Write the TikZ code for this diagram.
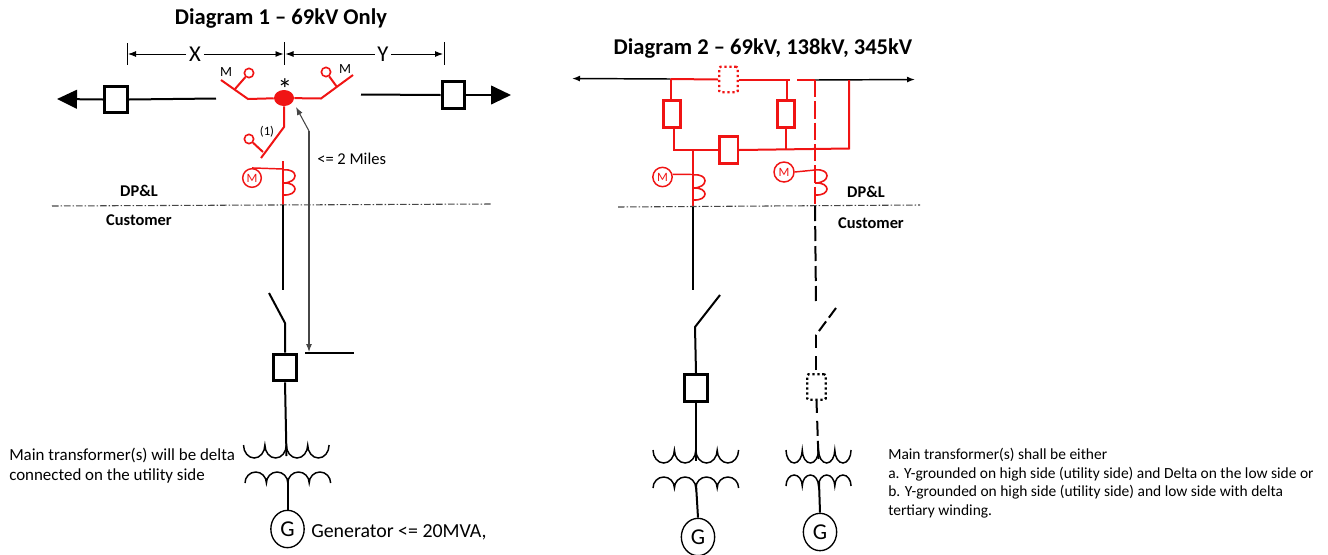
\documentclass[tikz,border=0pt]{standalone}
\usepackage{fontspec}
\setmainfont{Carlito}
\usetikzlibrary{arrows.meta,shapes.geometric}
\definecolor{wirered}{RGB}{240,20,20}
\definecolor{leadgray}{RGB}{70,70,70}
\tikzset{
	wire/.style={line width=1.5pt, black},
	thinwire/.style={line width=1.1pt, black},
	redwire/.style={line width=1.5pt, wirered},
	brk/.style={draw, line width=2.4pt, fill=white, rectangle, inner sep=0pt, minimum width=17pt, minimum height=20pt},
	redbrk/.style={brk, draw=wirered, line width=2pt, minimum width=13pt},
	dotbrk/.style={draw, line width=1.7pt, dotted, rectangle, rounded corners=1pt, inner sep=0pt, minimum width=14pt, minimum height=19pt},
	handle/.style={draw=wirered, line width=1.2pt, circle, fill=white, inner sep=0pt, minimum size=7pt},
	motor/.style={draw=wirered, line width=1.1pt, circle, fill=white, text=wirered, inner sep=0pt, minimum size=14pt, font=\fontsize{9.5}{10}\selectfont},
	gen/.style={draw, line width=1pt, ellipse, fill=white, inner sep=0pt, minimum width=25pt, minimum height=28pt, font=\fontsize{17}{18}\selectfont},
	title/.style={font=\bfseries\fontsize{16.9}{20}\selectfont},
	side/.style={font=\bfseries\fontsize{12.3}{14}\selectfont},
	note/.style={align=left, anchor=north west, inner sep=0pt},
	border/.style={line width=.8pt, leadgray, dash pattern=on 5pt off 1.5pt on 1pt off 1.5pt},
	dimline/.style={line width=.7pt, black},
	bump/.style={line width=1.1pt, black},
	cups/.pic={\draw[bump] (0,0) arc[start angle=180, end angle=0, x radius=10.7, y radius=13] arc[start angle=180, end angle=0, x radius=10.7, y radius=13] arc[start angle=180, end angle=0, x radius=10.7, y radius=13] arc[start angle=180, end angle=0, x radius=10.7, y radius=13];},
	caps/.pic={\draw[bump] (0,0) arc[start angle=180, end angle=360, x radius=10.7, y radius=11] arc[start angle=180, end angle=360, x radius=10.7, y radius=11] arc[start angle=180, end angle=360, x radius=10.7, y radius=11] arc[start angle=180, end angle=360, x radius=10.7, y radius=11];},
	coil/.pic={\draw[line width=1.2pt, wirered] (0,0) .. controls (16,-2) and (16,13) .. (0,13) .. controls (16,12) and (16,26) .. (0,25);},
	>={Latex[length=6pt,width=4.5pt]}
}
\begin{document}
\begin{tikzpicture}[x=0.75pt, y=-0.75pt]
	\useasboundingbox (0,0) rectangle (1328,554);

	% diagram 1
	\node[title] (titleA) at (281,19) {Diagram 1 -- 69kV Only};

	\coordinate (dimXtop) at (127,43);
	\coordinate (dimXbot) at (127,65);
	\coordinate (dimMtop) at (284.5,42);
	\coordinate (dimMbot) at (284.5,65);
	\coordinate (dimYtop) at (444,42);
	\coordinate (dimYbot) at (444,65);
	\draw [dimline] (dimXtop) -- (dimXbot);
	\draw [dimline] (dimMtop) -- (dimMbot);
	\draw [dimline] (dimYtop) -- (dimYbot);
	\node[font=\fontsize{17}{18}\selectfont, inner sep=2pt] (labX) at (195,54) {X};
	\node[font=\fontsize{17}{18}\selectfont, inner sep=2pt] (labY) at (383,54) {Y};
	\coordinate (arrXa) at (128,54);
	\coordinate (arrXb) at (283.5,54);
	\coordinate (arrYa) at (285.5,54);
	\coordinate (arrYb) at (443,54);
	\draw [dimline, ->] (labX) -- (arrXa);
	\draw [dimline, ->] (labX) -- (arrXb);
	\draw [dimline, ->] (labY) -- (arrYa);
	\draw [dimline, ->] (labY) -- (arrYb);

	% line in and out
	\node[brk] (brkW) at (116,99.5) {};
	\node[brk] (brkE) at (453.5,95) {};
	\coordinate (tipW) at (57,99);
	\coordinate (freeW) at (216,98.5);
	\coordinate (tipE) at (511,95);
	\coordinate (freeE) at (361,94.5);
	\draw [wire, -{Triangle[length=15pt,width=14pt]}] (brkW.west) -- (tipW);
	\draw [wire] (brkW.east) -- (freeW);
	\draw [wire, -{Triangle[length=15pt,width=14pt]}] (brkE.east) -- (tipE);
	\draw [wire] (brkE.west) -- (freeE);

	% tap switches
	\node[draw=none, fill=wirered, ellipse, inner sep=0pt, minimum width=15pt, minimum height=12pt] (tap) at (284,98) {};
	\node[font=\fontsize{22}{24}\selectfont, inner sep=0pt] at (285,89) (star) {*};
	\coordinate (kneeW) at (248,99);
	\coordinate (endW) at (221,80);
	\coordinate (midW) at (235,89);
	\coordinate (kneeE) at (321,98.5);
	\coordinate (endE) at (353,75);
	\coordinate (midE) at (337,87);
	\coordinate (kneeS) at (284,127);
	\coordinate (endS) at (261,158);
	\coordinate (midS) at (263,152);
	\node[handle] (hdlW) at (249,73) {};
	\node[handle] (hdlE) at (326,72) {};
	\node[handle] (hdlS) at (249,139) {};
	\draw [redwire] (endW) -- (kneeW) -- (tap) -- (kneeE) -- (endE);
	\draw [redwire] (tap) -- (kneeS) -- (endS);
	\draw [redwire] (midW) -- (hdlW);
	\draw [redwire] (midE) -- (hdlE);
	\draw [redwire] (midS) -- (hdlS);
	\node[font=\fontsize{10.5}{12}\selectfont, inner sep=0pt] (markW) at (226,72) {M};
	\node[font=\fontsize{10.5}{12}\selectfont, inner sep=0pt] (markE) at (345,69) {M};
	\node[font=\fontsize{9.5}{11}\selectfont, inner sep=0pt] (markS) at (267,132) {(1)};

	% distance lead
	\coordinate (leadKnee) at (309,131);
	\coordinate (leadTop) at (296,107);
	\coordinate (leadBot) at (309,352);
	\coordinate (levelA) at (305,352.5);
	\coordinate (levelB) at (354,352.5);
	\draw [line width=.8pt, leadgray, ->] (leadKnee) -- (leadTop);
	\draw [line width=.8pt, leadgray, ->] (leadKnee) -- (leadBot);
	\draw [wire] (levelA) -- (levelB);
	\node[font=\fontsize{12.4}{14}\selectfont, anchor=west, inner sep=0pt] (miles) at (317,159) {<= 2 Miles};

	% metering
	\coordinate (ctAtop) at (283,161);
	\coordinate (ctAbot) at (283,205);
	\coordinate (ctAtap) at (283,169);
	\node[motor] (motA) at (252,178) {M};
	\draw [redwire] (ctAtop) -- (ctAbot);
	\draw [line width=1.1pt, wirered] (motA.north) -- (ctAtap);
	\pic at (283,170) {coil};

	\coordinate (borderAa) at (52,206);
	\coordinate (borderAb) at (491,204);
	\draw [border] (borderAa) -- (borderAb);
	\node[side] (utilA) at (139,191) {DP\&L};
	\node[side] (custA) at (139,220) {Customer};

	% customer side 1
	\coordinate (feedA) at (283,290);
	\coordinate (hingeA) at (285,323);
	\coordinate (bladeA) at (269,293);
	\node[brk] (brkA) at (285,367.5) {};
	\coordinate (priA) at (286.5,456);
	\coordinate (secA) at (287.5,480);
	\node[gen] (genA) at (287.5,529) {G};
	\draw [wire] (ctAbot) -- (feedA);
	\draw [wire] (bladeA) -- (hingeA) -- (brkA.north);
	\draw [wire] (brkA.south) -- (priA);
	\pic at (243.5,445) {cups};
	\pic at (245,483) {caps};
	\draw [wire] (secA) -- (genA.north);
	\node[note, font=\fontsize{12.7}{15}\selectfont] (noteA) at (9,448) {Main transformer(s) will be delta\\connected on the utility side};
	\node[font=\fontsize{14.9}{16}\selectfont, anchor=west, inner sep=0pt] (genlabel) at (311,532) {Generator <= 20MVA,};

	% diagram 2
	\node[title] (titleB) at (763,48) {Diagram 2 -- 69kV, 138kV, 345kV};

	\coordinate (busW) at (572,78.5);
	\coordinate (busA) at (670.5,79);
	\coordinate (busB) at (787,79.5);
	\coordinate (busC) at (790,79.5);
	\coordinate (busD) at (797,80);
	\coordinate (busE) at (815,80);
	\coordinate (busF) at (849,80);
	\coordinate (busG) at (915,79.5);
	\draw [thinwire, ->] (busA) -- (busW);
	\draw [thinwire, ->] (busE) -- (busG);

	\node[dotbrk, draw=wirered] (brkT) at (728.5,79.5) {};
	\node[redbrk] (brkL) at (672,114) {};
	\node[redbrk] (brkR) at (786,114) {};
	\node[redbrk, minimum width=14pt] (brkM) at (728.5,150) {};
	\coordinate (lowL) at (673.5,127);
	\coordinate (lowR) at (785.5,148.5);
	\coordinate (lowE) at (849,148.5);
	\coordinate (lowJ) at (693,151);
	\draw [redwire] (busA) -- (brkT.west);
	\draw [redwire] (brkT.east) -- (busC);
	\draw [redwire] (busD) -- (busE);
	\draw [redwire] (busA) -- (brkL.north -| busA);
	\draw [redwire] (busB) -- (brkR.north -| busB);
	\draw [redwire] (lowL) |- (brkM.west);
	\draw [redwire] (brkR.south -| lowR) -- (lowR);
	\draw [redwire] (brkM.east) -- (lowE) -- (busF);

	% metering
	\coordinate (ctBbot) at (693,207);
	\coordinate (ctBtap) at (693,174.5);
	\coordinate (ctCtop) at (815,80);
	\coordinate (ctCbot) at (815,206);
	\coordinate (ctCtap) at (815,170);
	\node[motor, minimum size=14.5pt] (motB) at (662.5,177) {M};
	\node[motor, minimum size=15pt] (motC) at (784,172) {M};
	\draw [redwire] (lowJ) -- (ctBbot);
	\draw [line width=1.1pt, wirered] (motB.15) -- (ctBtap);
	\draw [redwire, dash pattern=on 13pt off 3pt] (ctCtop) -- (ctCbot);
	\draw [line width=1.1pt, wirered] (motC.east) -- (ctCtap);
	\pic at (693,175) {coil};
	\pic at (815,170) {coil};

	\coordinate (borderBa) at (618,207);
	\coordinate (borderBb) at (920,205);
	\draw [border] (borderBa) -- (borderBb);
	\node[side] (utilB) at (866,192) {DP\&L};
	\node[side] (custB) at (871,223) {Customer};

	% customer side 2
	\coordinate (feedB) at (693,290);
	\coordinate (hingeB) at (695,327);
	\coordinate (bladeB) at (720,295);
	\node[brk] (brkB) at (696,388) {};
	\coordinate (priB) at (696,461);
	\coordinate (secB) at (696,484);
	\node[gen] (genB) at (698,537) {G};
	\draw [wire] (ctBbot) -- (feedB);
	\draw [wire] (bladeB) -- (hingeB) -- (brkB.north);
	\draw [wire] (brkB.south) -- (priB);
	\pic at (653,450) {cups};
	\pic at (653,488) {caps};
	\draw [wire] (secB) -- (genB.north);

	\coordinate (feedC) at (816,303);
	\coordinate (hingeC) at (816,335);
	\coordinate (bladeC) at (836,308);
	\coordinate (feedCb) at (816,370);
	\node[dotbrk] (brkC) at (816.5,387) {};
	\coordinate (priC) at (818.5,459);
	\coordinate (secC) at (819,482);
	\node[gen] (genC) at (820,532) {G};
	\draw [wire, dash pattern=on 11.25pt off 3.75pt] (ctCbot) -- (feedC);
	\draw [wire, dash pattern=on 9pt off 3.5pt] (bladeC) -- (hingeC);
	\draw [wire, dash pattern=on 9.75pt off 6pt on 10.5pt] (hingeC) -- (feedCb);
	\draw [wire, dash pattern=on 9pt off 6pt on 11.25pt off 3.75pt on 15pt] (brkC.south) -- (priC);
	\pic[xscale=.76] at (786,450) {cups};
	\pic[xscale=.76] at (786,486) {caps};
	\draw [wire] (secC) -- (genC.north);

	\node[note, font=\fontsize{11.6}{14}\selectfont] (noteB) at (888,448) {Main transformer(s) shall be either\\a. Y-grounded on high side (utility side) and Delta on the low side or\\b. Y-grounded on high side (utility side) and low side with delta\\tertiary winding.};
\end{tikzpicture}
\end{document}
